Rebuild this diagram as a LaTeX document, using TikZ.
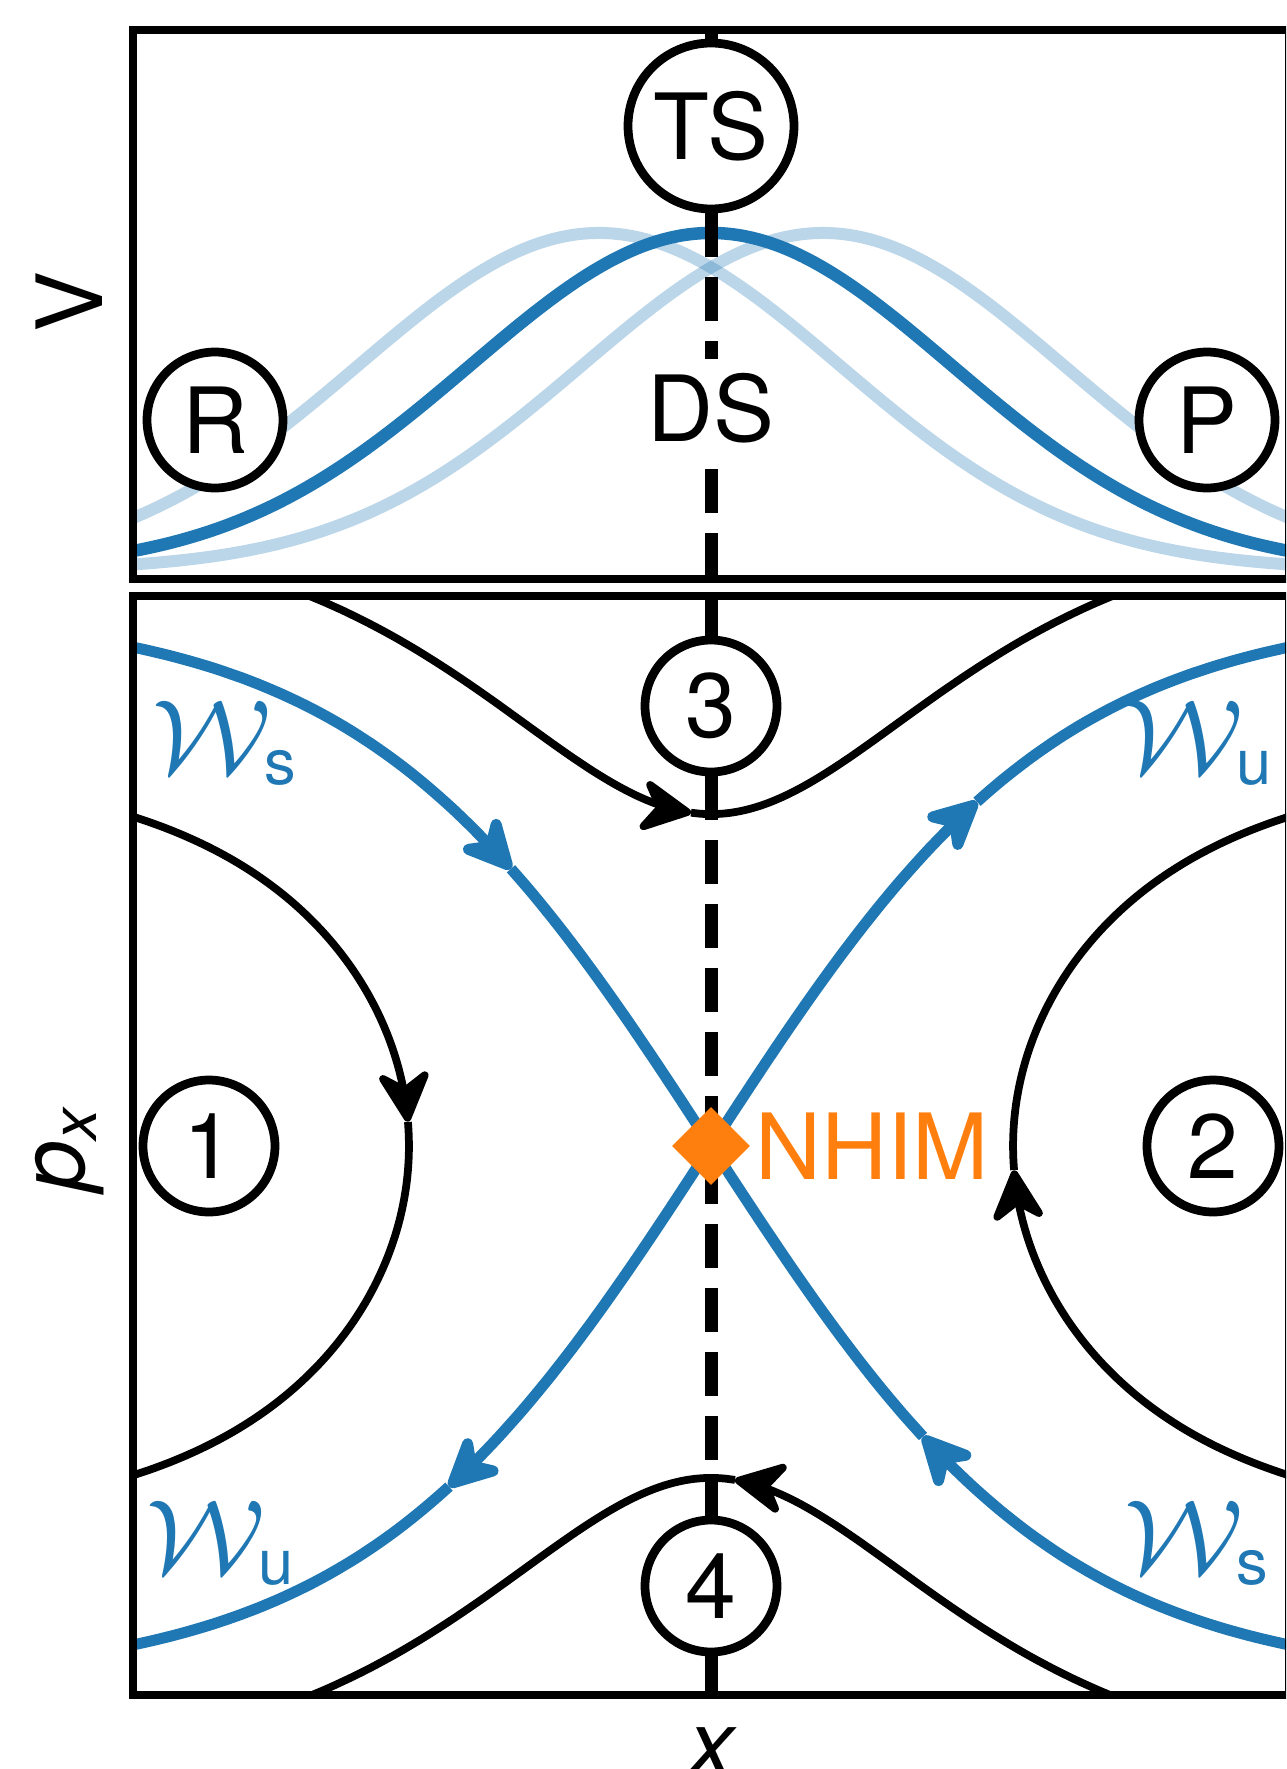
\documentclass[tikz,border=0pt]{standalone}
\usepackage{fontspec}
\setmainfont{TeX Gyre Heros}
\usetikzlibrary{arrows.meta,shapes.geometric}
\definecolor{tabblue}{HTML}{1F77B4}
\definecolor{taborange}{HTML}{FF7F0E}
\tikzset{
  frame/.style={line width=0.15cm, draw=black},
  pot/.style={line width=0.25cm, tabblue},
  potlight/.style={line width=0.24cm, tabblue, draw opacity=0.3},
  sep/.style={line width=0.22cm, tabblue},
  traj/.style={line width=0.155cm, black},
  ring/.style={circle, draw=black, line width=0.175cm, fill=white, inner sep=0pt, minimum size=2.64cm, font=\fontsize{52}{62}\selectfont},
  bigring/.style={ring, minimum size=3.32cm},
  midring/.style={ring, minimum size=2.72cm},
  dashline/.style={line width=0.26cm, black, dash pattern=on 0.88cm off 0.4cm},
  solidline/.style={line width=0.26cm, black},
  tipk/.style={-{Stealth[length=1.2cm,width=1.22cm,round]}},
  tipb/.style={-{Stealth[length=1.3cm,width=1.28cm,round]}},
  lbl/.style={font=\fontsize{52}{62}\selectfont, inner sep=0pt},
  wlbl/.style={font=\fontsize{50}{60}\selectfont, inner sep=0pt, text=tabblue, anchor=base west},
}
\newcommand{\Wlab}[1]{\scalebox{3.05}[2.9]{\fontsize{20.74}{25}\selectfont$\mathcal{W}$}\hspace{-0.14cm}\raisebox{-0.22cm}{\fontsize{36}{40}\selectfont #1}}
\begin{document}
\begin{tikzpicture}[x=0.02cm, y=-0.02cm]
\useasboundingbox (0,0) rectangle (1286,1769);
\clip (0,0) rectangle (1286,1769);

% ---------- top panel curves ----------
\begin{scope}
  \clip (133,30) rectangle (1289,579);
  \draw[pot] plot[domain=-600:600, samples=121, smooth] ({711+\x},{570-337*exp(-0.5*(\x/241)*(\x/241))});
  \draw[potlight] plot[domain=-600:600, samples=121, smooth] ({711+\x},{570-337*exp(-0.5*((\x+112)/241)*((\x+112)/241))});
  \draw[potlight] plot[domain=-600:600, samples=121, smooth] ({711+\x},{570-337*exp(-0.5*((\x-112)/241)*((\x-112)/241))});
\end{scope}

% ---------- bottom panel curves ----------
\begin{scope}
  \clip (133,596) rectangle (1289,1695);
  % stable manifold
  \draw[sep, tipb] plot[domain=-600:-200, samples=50, smooth] ({711+\x},{1146+537*tanh(\x/350)});
  \draw[sep] plot[domain=-200:212, samples=60, smooth] ({711+\x},{1146+537*tanh(\x/350)});
  \draw[sep, tipb] plot[domain=600:212, samples=50, smooth] ({711+\x},{1146+537*tanh(\x/350)});
  % unstable manifold
  \draw[sep, tipb] plot[domain=0:266, samples=40, smooth] ({711+\x},{1146-537*tanh(\x/350)});
  \draw[sep] plot[domain=266:600, samples=40, smooth] ({711+\x},{1146-537*tanh(\x/350)});
  \draw[sep, tipb] plot[domain=0:-262, samples=40, smooth] ({711+\x},{1146-537*tanh(\x/350)});
  \draw[sep] plot[domain=-262:-600, samples=40, smooth] ({711+\x},{1146-537*tanh(\x/350)});
  % trajectory over the barrier (top)
  \draw[traj, tipk] plot[domain=-470:-20, samples=50, smooth] ({711+\x},{1146-537*sqrt(tanh(\x/350)*tanh(\x/350)+0.382)});
  \draw[traj] plot[domain=-20:470, samples=50, smooth] ({711+\x},{1146-537*sqrt(tanh(\x/350)*tanh(\x/350)+0.382)});
  % trajectory over the barrier (bottom)
  \draw[traj, tipk] plot[domain=470:24, samples=50, smooth] ({711+\x},{1146+537*sqrt(tanh(\x/350)*tanh(\x/350)+0.382)});
  \draw[traj] plot[domain=24:-470, samples=50, smooth] ({711+\x},{1146+537*sqrt(tanh(\x/350)*tanh(\x/350)+0.382)});
  % reflected trajectory (left)
  \draw[traj, tipk] plot[domain=0.63:0.0447, samples=50, smooth] ({711-175*ln((1+sqrt(\x*\x+0.487))/(1-sqrt(\x*\x+0.487)))},{1146-537*\x});
  \draw[traj] plot[domain=0.0447:-0.63, samples=50, smooth] ({711-175*ln((1+sqrt(\x*\x+0.487))/(1-sqrt(\x*\x+0.487)))},{1146-537*\x});
  % reflected trajectory (right)
  \draw[traj, tipk] plot[domain=-0.63:-0.0447, samples=50, smooth] ({711+175*ln((1+sqrt(\x*\x+0.487))/(1-sqrt(\x*\x+0.487)))},{1146-537*\x});
  \draw[traj] plot[domain=-0.0447:0.63, samples=50, smooth] ({711+175*ln((1+sqrt(\x*\x+0.487))/(1-sqrt(\x*\x+0.487)))},{1146-537*\x});
\end{scope}

% ---------- frames ----------
\draw[frame] (133,30) rectangle (1289,579);
\draw[frame] (133,596) rectangle (1289,1695);

% ---------- circle nodes ----------
\node[bigring] (TS) at (711,126) {TS};
\node[midring] (R) at (215,420) {R};
\node[midring] (P) at (1207,420) {P};
\node[ring] (c3) at (711,706) {3};
\node[ring] (c4) at (711,1586) {4};
\node[ring] (c1) at (209,1146) {1};
\node[ring] (c2) at (1213,1146) {2};

\coordinate (topmid) at (711,30);
\coordinate (botmid) at (711,1695);

% ---------- dividing surface ----------
\draw[solidline] (topmid) -- (TS);
\draw[dashline] (TS) -- (c3);
\draw[dashline] (c3) -- (c4);
\draw[solidline] (c4) -- (botmid);

\node[lbl, fill=white, inner sep=0.28cm] (DS) at (711,408) {DS};

% ---------- NHIM ----------
\node[diamond, fill=taborange, inner sep=0pt, minimum width=1.56cm, minimum height=1.56cm] (nhim) at (711,1146) {};
\node[lbl, text=taborange, anchor=west] (nhimlbl) at (755,1146) {NHIM};

% ---------- manifold labels ----------
\node[wlbl] (ws1) at (152,773) {\Wlab{s}};
\node[wlbl] (wu1) at (1124,773) {\Wlab{u}};
\node[wlbl] (wu2) at (146,1573) {\Wlab{u}};
\node[wlbl] (ws2) at (1124,1573) {\Wlab{s}};

% ---------- axis labels ----------
\node[lbl, rotate=90, anchor=base] (Vlab) at (102,302) {V};
\node[lbl, rotate=90, anchor=base] (pxlab) at (84,1150) {\itshape p\raisebox{-0.26cm}{\fontsize{36}{40}\selectfont x}};
\node[lbl, anchor=base] (xlab) at (711,1775) {\itshape x};
\end{tikzpicture}
\end{document}
